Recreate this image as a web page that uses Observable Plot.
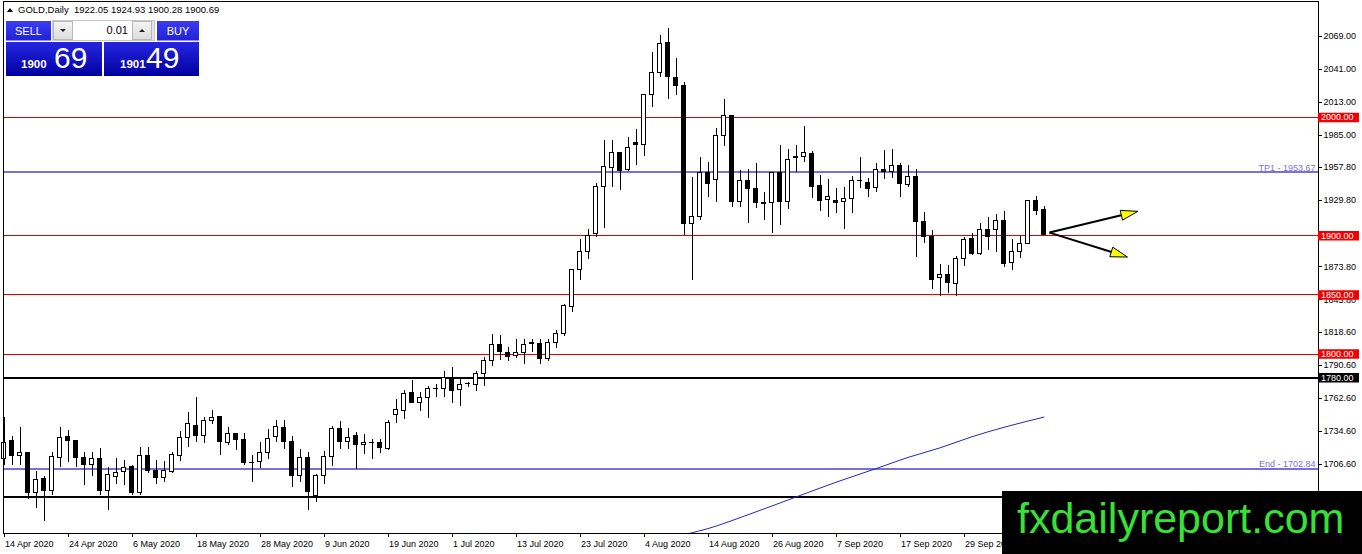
<!DOCTYPE html>
<html><head><meta charset="utf-8">
<script src="https://cdn.jsdelivr.net/npm/d3@7"></script>
<script src="https://cdn.jsdelivr.net/npm/@observablehq/plot@0.6"></script>
<style>
body{margin:0;background:#fff;font-family:"Liberation Sans",Arial,sans-serif;}
#wrap{position:relative;width:1362px;height:554px;overflow:hidden;background:#fff;}
#chart{position:absolute;left:0;top:0;}
.abs{position:absolute;white-space:nowrap;}
#hdr{left:18px;top:4.7px;font-size:9.5px;line-height:9.5px;color:#000;}
#tri{left:7px;top:8px;width:0;height:0;border-left:3px solid transparent;border-right:3px solid transparent;border-bottom:4px solid #000;}
.btn{background:linear-gradient(#3c3cf4,#2222d8);color:#fff;font-size:11px;display:flex;align-items:center;justify-content:center;box-sizing:border-box;border-bottom:1px solid #8c8cff;}
.price{background:linear-gradient(#2626e2,#0000a0);}
.small{font-size:11.5px;font-weight:bold;line-height:11.5px;color:#fff;}
.big{font-size:30px;line-height:30px;color:#fff;}
#ctrl{left:52px;top:20px;width:103px;height:21px;background:#e4e4e4;border:1px solid #c8c8c8;box-sizing:border-box;}
.arrbtn{top:21px;width:20px;height:19px;background:linear-gradient(#f4f4f4,#dcdcdc);border:1px solid #b8b8b8;box-sizing:border-box;}
.dn{width:0;height:0;border-left:3px solid transparent;border-right:3px solid transparent;border-top:3px solid #222;}
.up{width:0;height:0;border-left:3px solid transparent;border-right:3px solid transparent;border-bottom:3px solid #222;}
#inp{left:73px;top:21px;width:59px;height:19px;background:#fff;font-size:11px;line-height:19px;text-align:right;box-sizing:border-box;padding-right:4px;color:#000;}
#wm{left:1002px;top:491px;width:360px;height:63px;background:#000;}
#wmtext{left:1017px;top:496.5px;font-size:43px;line-height:43px;color:#38e038;}
</style></head>
<body><div id="wrap"><div id="chart"></div></div>
<script>
// ---- data ----
const open  = [1711,1726,1714,1716,1682.5,1694,1684.5,1712,1730,1726,1712,1706,1711,1684.5,1696,1700,1704,1682.5,1714,1701,1695,1700,1714,1728.6,1739,1731,1743,1746.6,1724.4,1732,1727,1707.5,1708.5,1716,1730,1737.3,1725.4,1696.6,1712,1680,1696.6,1712.7,1736.2,1725.4,1730.5,1722.6,1725,1724.6,1719.7,1748.3,1751.7,1767.2,1758.7,1762.5,1770.3,1770.6,1779.4,1769.3,1774.5,1773.5,1782.8,1794.1,1807.4,1801,1798.3,1801,1808.5,1808.7,1795.5,1809.6,1816.7,1839.8,1870.9,1886.4,1901.4,1941.5,1957.4,1969.7,1955.7,1978.8,1977.1,2019.5,2037.9,2063.3,2033.6,2027.1,1910.4,1915.5,1952.8,1947.2,1984.7,2001.7,1928.2,1946.6,1939.6,1927.3,1927.4,1952.8,1928.2,1966.9,1966.9,1969.2,1942.4,1930.3,1929.7,1928.2,1931.1,1946,1944.7,1940.4,1955.7,1953.6,1959.3,1943.2,1950,1911.9,1899.4,1864.2,1866.7,1859.1,1880.3,1897.2,1884.5,1904.8,1904.8,1912.7,1877.4,1886.4,1893,1929.1,1922.05];
const high  = [1746,1730,1738,1717,1701,1696,1717,1737.5,1735,1726.5,1716.5,1716.5,1720,1704,1712,1710,1706,1720.6,1721,1710,1709.3,1716.5,1734.7,1750.3,1763.6,1746,1752.5,1747,1738,1732.5,1732.8,1714,1724.8,1736,1743.8,1743.8,1730.5,1719,1716.5,1698,1717.8,1738.4,1743.2,1736.7,1733.3,1732,1727.7,1727.7,1743.8,1761.6,1769.5,1777.7,1767.2,1772.9,1774.3,1785,1788.4,1778.6,1776.3,1785.6,1796.9,1816.7,1815.3,1805.3,1812.5,1812.5,1812.5,1812.5,1812.5,1819.5,1842.1,1871.8,1897.2,1905.7,1944.3,1980.5,1980.5,1970.6,1982.8,1989.6,2019.7,2055.3,2069.5,2075.2,2049.7,2029.9,1949.4,1966.4,1962.1,1990.9,2015,2002,1955.1,1955.7,1961.3,1936.7,1953,1976.3,1972.6,1976.3,1992.4,1971.4,1950.8,1948,1940.4,1940.9,1950,1966.4,1948.9,1961.3,1972,1972.6,1961.3,1959.3,1955.7,1919.7,1904.8,1876,1874.6,1882.2,1898.6,1902,1910.4,1915.5,1917.8,1920.6,1897.2,1899.2,1929.3,1933.1,1924.93];
const low   = [1706,1706,1706,1677,1669,1658,1680,1704,1708,1704,1689,1696,1680,1668,1690,1689,1680,1680,1699,1690,1691,1699,1709.3,1720.6,1725.4,1724,1740,1714,1722.7,1718.6,1706,1691,1702.8,1711,1724.8,1719,1686.7,1691,1668,1674.6,1690,1705,1719,1719,1702.3,1715,1710.8,1715.5,1718.4,1741,1744.7,1758.5,1751.7,1745.2,1763.6,1763,1757.9,1756,1772,1768,1772.9,1789.8,1794.7,1794,1796.4,1791,1801,1791.3,1793.5,1804.8,1814.4,1835,1862.5,1880.3,1898.6,1906.5,1941,1938,1954.5,1959.3,1966.9,2008.7,2034.2,2015,2018.6,1900,1861.9,1912.7,1932,1928.2,1975.4,1924,1924,1910.4,1923.5,1912.7,1902,1908.5,1922.6,1953.7,1962.1,1931.6,1920.6,1915.5,1918.9,1905.7,1918.9,1940.4,1932.5,1936.7,1948,1948.9,1932,1940.9,1881.6,1893.5,1854.8,1848.3,1851.1,1848.3,1873.7,1883.1,1883.1,1887.9,1885.8,1873.1,1870.9,1881.1,1892.8,1917,1900.28];
const close = [1725,1714,1716,1682,1693,1684.5,1713,1729,1726,1712,1706,1711,1684.5,1698,1699,1703.6,1682.5,1714,1701,1695,1701,1714.4,1728.6,1740.4,1731,1743,1746,1725.4,1732.5,1727,1707.4,1708,1716,1728,1738,1725.4,1696.6,1711.6,1683,1696.6,1712.7,1736.7,1725.4,1728.6,1722.6,1724.6,1724.5,1720.6,1741.5,1752.3,1765.8,1758.7,1762.5,1770.1,1770.6,1779.4,1768.6,1773.5,1775,1782.8,1794.1,1807.4,1802,1797.5,1801.1,1808,1809,1795.5,1809.6,1816.7,1840.7,1870.9,1886.4,1900,1941.5,1958.5,1969.7,1955.1,1974.3,1976.9,2019.5,2037.9,2062.5,2034.2,2026.5,1910.4,1916.1,1952.8,1943.8,1984.7,2001.7,1928.2,1946.6,1939.6,1927.4,1927.6,1952.8,1928.2,1964.2,1965.5,1970.1,1941.5,1929.1,1933.1,1927.4,1931.1,1946.6,1946.3,1939.6,1955.7,1953.6,1959.3,1943.8,1949.4,1911.9,1899.2,1862.5,1866.7,1860.4,1880.3,1896.4,1884.5,1904.8,1898.6,1912.7,1876.5,1886.4,1893,1929.1,1921.2,1900.69];

const tickBars   = [0,8,16,24,32,40,48,56,64,72,80,88,96,104,112,120,128];
const tickLabels = ["14 Apr 2020","24 Apr 2020","6 May 2020","18 May 2020","28 May 2020","9 Jun 2020","19 Jun 2020","1 Jul 2020","13 Jul 2020","23 Jul 2020","4 Aug 2020","14 Aug 2020","26 Aug 2020","7 Sep 2020","17 Sep 2020","29 Sep 2020","9 Oct 2020"];
const priceTicks = [2069,2041,2013,1985,1957.8,1929.8,1901.8,1873.8,1845.8,1818.6,1790.6,1762.6,1734.6,1706.6];

const redLevels   = [2000,1900,1850,1800];
const blackLevels = [1780,1679.4];
const blackLabelLevels = [1780];
const blueLevels  = [1953.67,1702.84];
const blueLabels  = ["TP1 - 1953.67","End - 1702.84"];

const maBar = [85.6,88,93,99,104,109,113,117,121,125,130];
const maVal = [1648.1,1652.3,1664,1679,1691.5,1703,1712.5,1720.6,1730,1738,1746.6];

const arrowFromBar = 130.75, arrowFromPrice = 1902.3;
const arrowToBar   = [141.8,140.5];
const arrowToPrice = [1920.3,1881.6];

// ---- layout ----
const W = 1362, H = 554;
const X_RANGE = [3, 1318], Y_RANGE = [533, 1];
const X_DOMAIN = [(X_RANGE[0]-3.5)/8, (X_RANGE[1]-3.5)/8];
const Y_DOMAIN = [2000 - (533-117.1)/1.182, 2000 + (117.1-1)/1.182];
const px = p => (p - 3.5)/8;           // pixel -> bar units (for axis-area placement)
const yPerPx = 1/1.182;
const yBottom = Y_DOMAIN[0];
const crisp = "crispEdges";

const candles = open.map((o,i)=>({i, o, h:high[i], l:low[i], c:close[i]}));
const ma = maBar.map((b,k)=>({b, v:maVal[k]}));

const xs = Plot.scale({x:{type:"linear", domain:X_DOMAIN, range:X_RANGE}});
const ys = Plot.scale({y:{type:"linear", domain:Y_DOMAIN, range:Y_RANGE}});

function arrowsMark(){
  const g = d3.create("svg:g");
  const x0 = xs.apply(arrowFromBar), y0 = ys.apply(arrowFromPrice);
  arrowToBar.forEach((b,k)=>{
    const x1 = xs.apply(b), y1 = ys.apply(arrowToPrice[k]);
    const dx=x1-x0, dy=y1-y0, len=Math.hypot(dx,dy), ux=dx/len, uy=dy/len;
    const hl=17, hw=5;
    const bx=x1-ux*hl, by=y1-uy*hl;
    g.append("line").attr("x1",x0).attr("y1",y0).attr("x2",bx+ux*2).attr("y2",by+uy*2)
      .attr("stroke","#000").attr("stroke-width",2);
    g.append("path").attr("d",`M${x1},${y1}L${bx-uy*hw},${by+ux*hw}L${bx+uy*hw},${by-ux*hw}Z`)
      .attr("fill","#ffff00").attr("stroke","#000").attr("stroke-width",1).attr("stroke-linejoin","miter");
  });
  return g.node();
}

const chart = Plot.plot({
  width: W, height: H,
  marginLeft: 3, marginRight: W-1318, marginTop: 1, marginBottom: H-533,
  x: {type:"linear", domain: X_DOMAIN, range: X_RANGE, axis: null},
  y: {type:"linear", domain: Y_DOMAIN, range: Y_RANGE, axis: null},
  style: {fontFamily:"'Liberation Sans', Arial, sans-serif", fontSize:"9px", background:"#fff", overflow:"visible"},
  marks: [
    Plot.ruleY(redLevels, {y: d=>d, stroke:"#e00000", strokeWidth:1, shapeRendering:crisp}),
    Plot.ruleY(blueLevels, {y: d=>d, stroke:"#7b6fe0", strokeWidth:2, shapeRendering:crisp}),
    Plot.ruleY(blackLevels, {y: d=>d, stroke:"#000", strokeWidth:2, shapeRendering:crisp}),
    Plot.line(ma, {x:"b", y:"v", stroke:"#2424c8", strokeWidth:1, curve:"monotone-x"}),
    Plot.ruleX(candles, {x:"i", y1:"l", y2:"h", stroke:"#000", strokeWidth:1, shapeRendering:crisp}),
    Plot.rect(candles, {x1: d=>d.i-0.25, x2: d=>d.i+0.25, y1:"o", y2:"c",
      fill: d=> d.c>=d.o ? "#fff" : "#000", stroke:"#000", strokeWidth:1, shapeRendering:crisp}),
    arrowsMark,
    Plot.frame({stroke:"#000", shapeRendering:crisp}),
    Plot.text(blueLevels, {y: d=>d, x: px(1315), text:(d,i)=>blueLabels[i], textAnchor:"end",
      dy: -4.6, fill:"#7b6fe8", fontSize:9}),
    // right price axis
    Plot.ruleY(priceTicks, {y: d=>d, x1: px(1318), x2: px(1321.5), stroke:"#000", shapeRendering:crisp}),
    Plot.text(priceTicks, {y: d=>d, x: px(1323), text: d=>d.toFixed(2), textAnchor:"start", fill:"#000", fontSize:9}),
    Plot.ruleY(redLevels, {y: d=>d, x1: px(1318), x2: px(1359), stroke:"#f00000", strokeWidth:9.5}),
    Plot.ruleY(blackLabelLevels, {y: d=>d, x1: px(1318), x2: px(1359), stroke:"#000", strokeWidth:9.5}),
    Plot.text(redLevels.concat(blackLabelLevels), {y: d=>d, x: px(1320.5), text: d=>d.toFixed(2), textAnchor:"start", fill:"#fff", fontSize:9}),
    // bottom time axis
    Plot.ruleX(tickBars, {x: d=>d, y1: yBottom, y2: yBottom - 4*yPerPx, stroke:"#000", shapeRendering:crisp}),
    Plot.text(tickBars, {x: d=>d, y: yBottom, text:(d,i)=>tickLabels[i], textAnchor:"start", dx:1, dy:10.5, fill:"#000", fontSize:9})
  ]
});
document.getElementById("chart").appendChild(chart);

// ---- overlays (terminal header, trade panel, watermark) ----
const wrap = document.getElementById("wrap");
function add(html){ wrap.insertAdjacentHTML("beforeend", html); }
add(`<div id="tri" class="abs"></div>`);
add(`<div id="hdr" class="abs">GOLD,Daily&nbsp; ${open[130]} ${high[130]} ${low[130]} ${close[130]}</div>`);
add(`<div class="abs btn" style="left:6px;top:21px;width:45px;height:20px;">SELL</div>`);
add(`<div id="ctrl" class="abs"></div>`);
add(`<div class="abs arrbtn" style="left:53px;display:flex;align-items:center;justify-content:center;"><div class="dn"></div></div>`);
add(`<div id="inp" class="abs">0.01</div>`);
add(`<div class="abs arrbtn" style="left:132px;display:flex;align-items:center;justify-content:center;"><div class="up"></div></div>`);
add(`<div class="abs btn" style="left:157px;top:21px;width:42px;height:20px;">BUY</div>`);
add(`<div class="abs price" style="left:6px;top:42px;width:96px;height:34px;"></div>`);
add(`<div class="abs price" style="left:104px;top:42px;width:95px;height:34px;"></div>`);
add(`<div class="abs small" style="left:21px;top:58.6px;">1900</div>`);
add(`<div class="abs big" style="left:54px;top:42.9px;">69</div>`);
add(`<div class="abs small" style="left:120px;top:58.6px;">1901</div>`);
add(`<div class="abs big" style="left:146px;top:42.9px;">49</div>`);
add(`<div id="wm" class="abs"></div>`);
add(`<div id="wmtext" class="abs">fxdailyreport.com</div>`);
</script>
</body></html>
